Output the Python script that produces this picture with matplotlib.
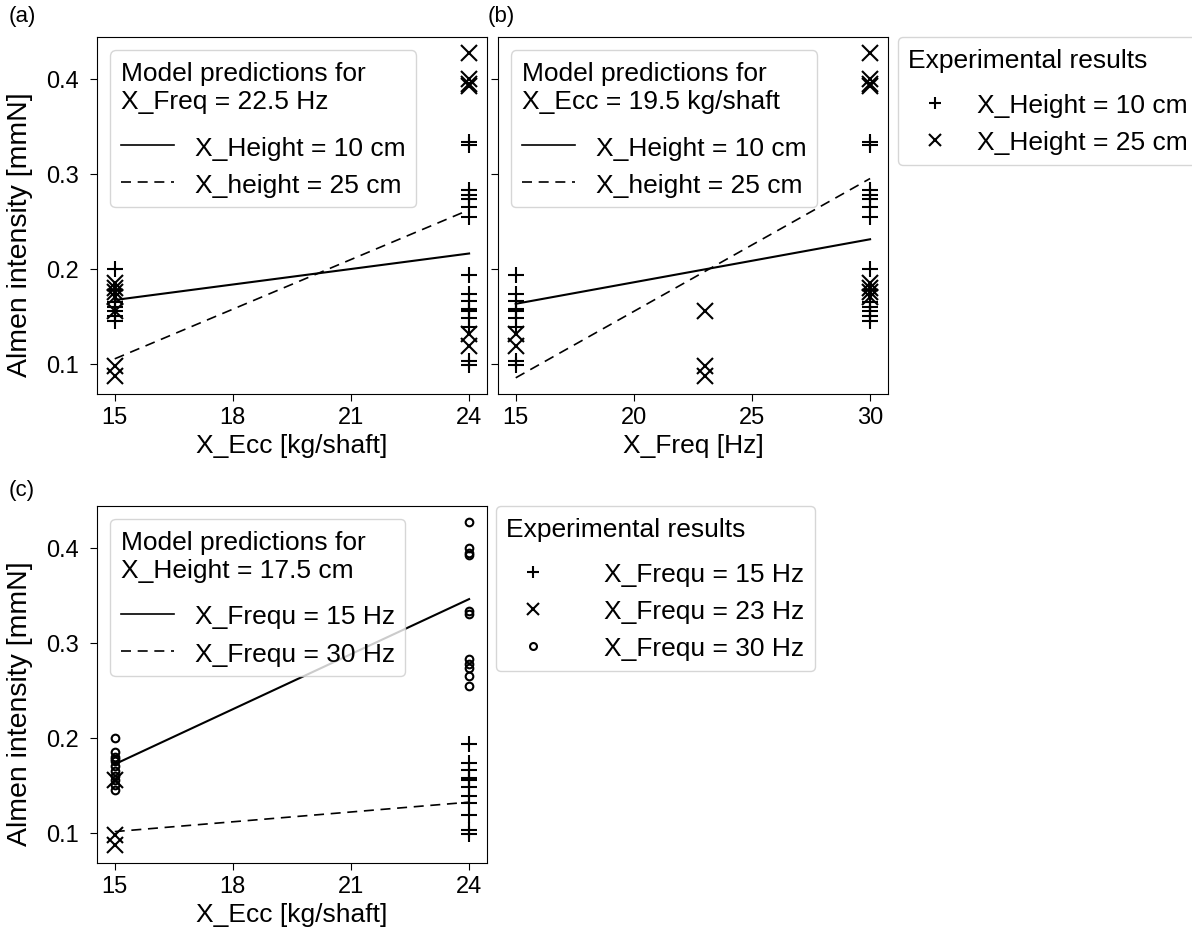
import matplotlib
matplotlib.use("Agg")
import matplotlib.pyplot as plt
from matplotlib.lines import Line2D

plt.rcParams['font.family'] = ['Liberation Sans', 'DejaVu Sans']
plt.rcParams['font.size'] = 19

# measured Almen intensity [mmN] for each run
ecc = [15]*11 + [15]*3 + [24]*11 + [24]*11
freq = [30]*11 + [23]*3 + [15]*11 + [30]*11
height = ([10]*7 + [25]*4 + [25]*3 +
          [10]*9 + [25]*2 +
          [10]*7 + [25]*4)
almen = [0.200, 0.178, 0.165, 0.160, 0.155, 0.150, 0.145, 0.185, 0.180, 0.175, 0.170,
         0.155, 0.097, 0.087,
         0.193, 0.173, 0.166, 0.157, 0.155, 0.148, 0.139, 0.103, 0.098, 0.131, 0.118,
         0.333, 0.330, 0.283, 0.278, 0.273, 0.265, 0.254, 0.427, 0.400, 0.395, 0.392]

# model predictions (end points of the lines)
ecc_line = [15, 24]
a_h10 = [0.167, 0.216]
a_h25 = [0.105, 0.262]
freq_line = [15, 30]
b_h10 = [0.163, 0.231]
b_h25 = [0.085, 0.295]
c_f15 = [0.172, 0.346]
c_f30 = [0.101, 0.132]

height_markers = {10: '+', 25: 'x'}
freq_markers = {15: '+', 23: 'x', 30: 'o'}
DASH = (0, (6, 4))

fig = plt.figure(figsize=(11.92, 9.37), dpi=100)
ax_a = fig.add_axes([0.0814, 0.5784, 0.327, 0.381])
ax_b = fig.add_axes([0.4178, 0.5784, 0.327, 0.381], sharey=ax_a)
ax_c = fig.add_axes([0.0814, 0.0779, 0.327, 0.381])


def scatter_by(ax, xs, groups, markers):
    for key, m in markers.items():
        px = [x for x, g in zip(xs, groups) if g == key]
        py = [v for v, g in zip(almen, groups) if g == key]
        if m == 'o':
            ax.plot(px, py, ls='none', marker='o', ms=5.5, mfc='none', mec='black', mew=1.5)
        else:
            ax.plot(px, py, ls='none', marker=m, ms=12, color='black', mew=1.5)


def widen_title_gap(leg, extra=6):
    # a bit more room between the title and the entries
    leg._legend_box.sep = leg._legend_box.sep + extra


def model_legend(ax, title, labels):
    handles = [Line2D([], [], color='black', lw=1.2),
               Line2D([], [], color='black', lw=1.2, ls=DASH)]
    leg = ax.legend(handles, labels, title=title, loc='upper left',
                    alignment='left', fontsize=19, title_fontsize=19)
    widen_title_gap(leg, 7)
    return leg


def exp_legend(ax, handles, labels, x, pad):
    leg = ax.legend(handles, labels, title='Experimental results', loc='upper left',
                    bbox_to_anchor=(x, 1.0), borderaxespad=0, alignment='left',
                    fontsize=19, title_fontsize=19, handletextpad=pad)
    widen_title_gap(leg)
    return leg


def set_ylabel(ax):
    ax.set_ylabel('Almen intensity [mmN]', fontsize=20.5)
    ax.yaxis.set_label_coords(-0.165, 0.45)


# (a)
scatter_by(ax_a, ecc, height, height_markers)
ax_a.plot(ecc_line, a_h10, color='black', lw=1.5)
ax_a.plot(ecc_line, a_h25, color='black', lw=1.2, ls=DASH)
ax_a.set_xticks([15, 18, 21, 24])
ax_a.set_xlabel('X_Ecc [kg/shaft]')
set_ylabel(ax_a)
model_legend(ax_a, 'Model predictions for\nX_Freq = 22.5 Hz',
             ['X_Height = 10 cm', 'X_height = 25 cm'])

# (b)
scatter_by(ax_b, freq, height, height_markers)
ax_b.plot(freq_line, b_h10, color='black', lw=1.5)
ax_b.plot(freq_line, b_h25, color='black', lw=1.2, ls=DASH)
ax_b.set_xticks([15, 20, 25, 30])
ax_b.set_xlabel('X_Freq [Hz]')
ax_b.tick_params(axis='y', labelleft=False)
leg_b = model_legend(ax_b, 'Model predictions for\nX_Ecc = 19.5 kg/shaft',
                     ['X_Height = 10 cm', 'X_height = 25 cm'])
ax_b.add_artist(leg_b)
exp_b = [Line2D([], [], ls='none', marker='+', ms=9, color='black', mew=1.5),
         Line2D([], [], ls='none', marker='x', ms=9, color='black', mew=1.5)]
exp_legend(ax_b, exp_b, ['X_Height = 10 cm', 'X_Height = 25 cm'], 1.026, 0.6)

# (c)
scatter_by(ax_c, ecc, freq, freq_markers)
ax_c.plot(ecc_line, c_f15, color='black', lw=1.5)
ax_c.plot(ecc_line, c_f30, color='black', lw=1.2, ls=DASH)
ax_c.set_xticks([15, 18, 21, 24])
ax_c.set_ylim(ax_a.get_ylim())
ax_c.set_xlabel('X_Ecc [kg/shaft]')
set_ylabel(ax_c)
leg_c = model_legend(ax_c, 'Model predictions for\nX_Height = 17.5 cm',
                     ['X_Frequ = 15 Hz', 'X_Frequ = 30 Hz'])
ax_c.add_artist(leg_c)
exp_c = [Line2D([], [], ls='none', marker='+', ms=9, color='black', mew=1.5),
         Line2D([], [], ls='none', marker='x', ms=9, color='black', mew=1.5),
         Line2D([], [], ls='none', marker='o', ms=5, mfc='none', mec='black', mew=1.5)]
exp_legend(ax_c, exp_c, ['X_Frequ = 15 Hz', 'X_Frequ = 23 Hz', 'X_Frequ = 30 Hz'], 1.023, 1.7)

for ax in (ax_a, ax_b, ax_c):
    ax.set_yticks([0.1, 0.2, 0.3, 0.4])
    ax.tick_params(labelsize=17, length=5)
    ax.tick_params(axis='y', pad=8)

fig.text(0.007, 0.982, '(a)', fontsize=16, va='center')
fig.text(0.409, 0.982, '(b)', fontsize=16, va='center')
fig.text(0.007, 0.476, '(c)', fontsize=16, va='center')

fig.savefig('out.png', dpi=100)
